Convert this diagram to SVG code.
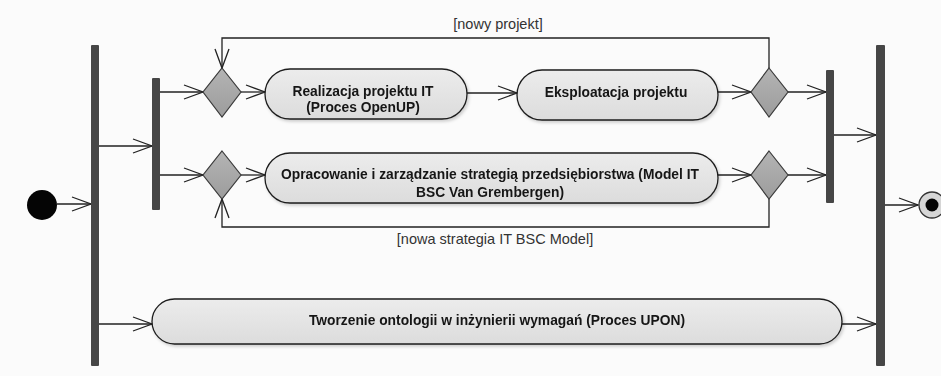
<svg xmlns="http://www.w3.org/2000/svg" width="941" height="376" viewBox="0 0 941 376">
  <style>
    .bar { fill: #464646; }
    .act { fill: url(#actFill); stroke: #1e1e1e; stroke-width: 1.3; }
    .dec { fill: url(#decFill); stroke: #3a3a3a; stroke-width: 1.2; }
    .flow { fill: none; stroke: #222; stroke-width: 1.3; }
    .lbl { font-family: "Liberation Sans", Arial, sans-serif; font-size: 13.8px; font-weight: bold; fill: #151515; text-anchor: middle; }
    .guard { font-family: "Liberation Sans", Arial, sans-serif; font-size: 14.5px; fill: #333; text-anchor: middle; }
  </style>
  <defs>
    <linearGradient id="actFill" x1="0" y1="0" x2="0" y2="1">
      <stop offset="0" stop-color="#ececec"/>
      <stop offset="1" stop-color="#dcdcdc"/>
    </linearGradient>
    <linearGradient id="decFill" x1="0" y1="0" x2="0" y2="1">
      <stop offset="0" stop-color="#b4b4b4"/>
      <stop offset="1" stop-color="#9c9c9c"/>
    </linearGradient>
    <filter id="shadow" x="-5%" y="-20%" width="110%" height="150%">
      <feDropShadow dx="1.5" dy="2" stdDeviation="1.5" flood-color="#000" flood-opacity="0.18"/>
    </filter>
    <marker id="open" markerUnits="userSpaceOnUse" markerWidth="24" markerHeight="20" refX="20" refY="8" orient="auto">
      <path d="M1,1 L20,8 L1,15" fill="none" stroke="#222" stroke-width="1.3"/>
    </marker>
  </defs>

  <rect width="941" height="376" fill="#fbfbfb"/>

  <!-- connectors -->
  <g id="connectors">
    <path class="flow" d="M57,204 H91" marker-end="url(#open)"/>
    <path class="flow" d="M99,146 H152" marker-end="url(#open)"/>
    <path class="flow" d="M99,324 H152" marker-end="url(#open)"/>
    <path class="flow" d="M160,92 H203" marker-end="url(#open)"/>
    <path class="flow" d="M160,175 H203" marker-end="url(#open)"/>
    <path class="flow" d="M241,92 H265" marker-end="url(#open)"/>
    <path class="flow" d="M241,175 H265" marker-end="url(#open)"/>
    <path class="flow" d="M467,93 H517" marker-end="url(#open)"/>
    <path class="flow" d="M718,92 H751" marker-end="url(#open)"/>
    <path class="flow" d="M718,175 H751" marker-end="url(#open)"/>
    <path class="flow" d="M788,92 H826" marker-end="url(#open)"/>
    <path class="flow" d="M788,175 H826" marker-end="url(#open)"/>
    <path class="flow" d="M834,135 H876" marker-end="url(#open)"/>
    <path class="flow" d="M842,324 H876" marker-end="url(#open)"/>
    <path class="flow" d="M885,205 H918" marker-end="url(#open)"/>
    <!-- loop back: new project -->
    <path class="flow" d="M769,68 V38 H222 V68" marker-end="url(#open)"/>
    <text class="guard" x="498" y="29">[nowy projekt]</text>
    <!-- loop back: new strategy -->
    <path class="flow" d="M769,199 V227 H222 V199" marker-end="url(#open)"/>
    <text class="guard" x="495" y="244">[nowa strategia IT BSC Model]</text>
  </g>

  <!-- initial node -->
  <g id="start">
    <circle cx="42" cy="205" r="15" fill="#050505"/>
  </g>

  <!-- fork / join bars -->
  <g id="fork-main"><rect class="bar" x="91" y="45" width="8" height="321" rx="1"/></g>
  <g id="fork-inner"><rect class="bar" x="152" y="78" width="8" height="132" rx="1"/></g>
  <g id="join-inner"><rect class="bar" x="826" y="70" width="8" height="133" rx="1"/></g>
  <g id="join-main"><rect class="bar" x="876" y="45" width="9" height="321" rx="1"/></g>

  <!-- decision / merge nodes -->
  <g id="merge-project"><path class="dec" d="M222,68 L241,92 L222,117 L203,92 Z"/></g>
  <g id="merge-strategy"><path class="dec" d="M222,151 L241,175 L222,199 L203,175 Z"/></g>
  <g id="decision-project"><path class="dec" d="M769,68 L788,92 L769,117 L751,92 Z"/></g>
  <g id="decision-strategy"><path class="dec" d="M769,151 L788,175 L769,199 L751,175 Z"/></g>

  <!-- actions -->
  <g id="realizacja" filter="url(#shadow)">
    <rect class="act" x="265" y="69" width="202" height="50" rx="25"/>
    <text class="lbl" x="363" y="96">Realizacja projektu IT</text>
    <text class="lbl" x="363" y="112">(Proces OpenUP)</text>
  </g>
  <g id="eksploatacja" filter="url(#shadow)">
    <rect class="act" x="517" y="70" width="201" height="50" rx="25"/>
    <text class="lbl" x="616" y="97">Eksploatacja projektu</text>
  </g>
  <g id="strategia" filter="url(#shadow)">
    <rect class="act" x="265" y="153" width="453" height="50" rx="25"/>
    <text class="lbl" x="490" y="179">Opracowanie i zarządzanie strategią przedsiębiorstwa (Model IT</text>
    <text class="lbl" x="490" y="197">BSC Van Grembergen)</text>
  </g>
  <g id="ontologia" filter="url(#shadow)">
    <rect class="act" x="152" y="299" width="690" height="45" rx="22.5"/>
    <text class="lbl" x="497" y="325">Tworzenie ontologii w inżynierii wymagań (Proces UPON)</text>
  </g>

  <!-- final node -->
  <g id="end">
    <circle cx="932" cy="205" r="13" fill="#d6d6d6" stroke="#333" stroke-width="1.3"/>
    <circle cx="932" cy="205" r="6.5" fill="#050505"/>
  </g>
</svg>
